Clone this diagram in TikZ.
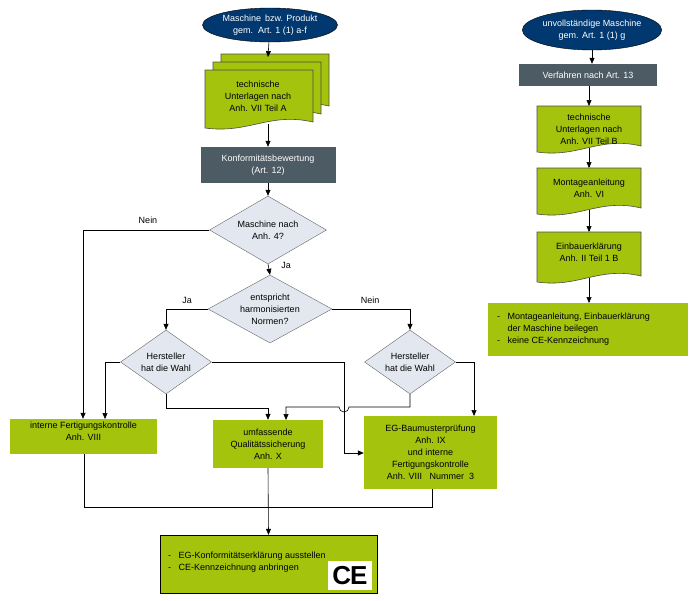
\documentclass[tikz,border=0pt]{standalone}
\usepackage{fontspec}
\setmainfont{Liberation Sans}
\usetikzlibrary{shapes.geometric,arrows.meta}
\definecolor{dblue}{HTML}{00386F}
\definecolor{dgray}{HTML}{4D5B64}
\definecolor{lgreen}{HTML}{A3C30C}
\definecolor{dia}{HTML}{E3E7EF}
\newcommand\docshape[4]{%
  \draw[fill=lgreen,draw=black!70,line width=.6pt] (#1,#2) -- (#3,#2) -- (#3,#4-6)
   .. controls ({(#1+#3)/2+10},#4-16) and ({(#1+#3)/2-10},#4+6) .. (#1,#4) -- cycle;}
\begin{document}
\begin{tikzpicture}[x=1pt,y=-1pt,font=\fontsize{9}{12}\selectfont,
  arr/.style={-{Triangle[length=6pt,width=5pt]},line width=.6pt},
  ln/.style={line width=.6pt},
  term/.style={ellipse,draw=black,fill=dblue,text=white,align=center,minimum width=135pt,minimum height=34pt,inner sep=0pt},
  proc/.style={fill=dgray,text=white,align=center,inner sep=0pt},
  gbox/.style={fill=lgreen,align=center,inner sep=0pt},
  dec/.style={diamond,aspect=1.7,draw=black!60,fill=dia,align=center,inner sep=0pt},
  lab/.style={inner sep=1pt}]
\useasboundingbox (0,0) rectangle (700,600);
% left column
\node[term] (t1) at (270,25) {Maschine\, bzw. Produkt\\gem.\, Art. 1 (1) a-f};
\docshape{221}{54}{329}{112}
\docshape{213}{62}{321}{120}
\docshape{205}{70}{313}{128}
\node[align=center] (d1) at (258,96) {technische\\Unterlagen nach\\Anh. VII Teil A};
\coordinate (d1b) at (268,124);
\coordinate (d1t) at (268,57);
\node[proc,minimum width=135pt,minimum height=36pt] (k) at (268,165) {Konformitätsbewertung\\(Art. 12)};
\node[dec,minimum width=117pt,minimum height=68pt] (q1) at (268,230) {Maschine nach\\Anh. 4?};
\node[dec,minimum width=124pt,minimum height=68pt] (q2) at (270,309) {entspricht\\harmonisierten\\Normen?};
\node[dec,minimum width=91pt,minimum height=64pt] (q3) at (166,362) {Hersteller\\hat die Wahl};
\node[dec,minimum width=91pt,minimum height=64pt] (q4) at (410,362) {Hersteller\\hat die Wahl};
\node[gbox,minimum width=147pt,minimum height=35pt] (b1) at (83.5,436.5) {interne Fertigungskontrolle\\Anh. VIII\\[-2pt]};
\node[gbox,minimum width=110pt,minimum height=48pt] (b2) at (268,444) {umfassende\\Qualitätssicherung\\Anh. X};
\node[gbox,minimum width=133pt,minimum height=73pt] (b3) at (430.5,452.5) {EG-Baumusterprüfung\\Anh. IX\\und interne\\Fertigungskontrolle\\Anh. VIII\;\; Nummer\; 3};
\node[gbox,draw=black,minimum width=217pt,minimum height=58pt] (f) at (268.5,564) {};
\node[anchor=west,align=left,inner sep=0pt] (ft) at (168,562) {-\;\; EG-Konformitätserklärung ausstellen\\-\;\; CE-Kennzeichnung anbringen};
\node[fill=white,minimum width=44pt,minimum height=29pt,inner sep=0pt,font=\fontsize{26}{26}\selectfont\bfseries] (ce) at (350,575.5) {C\kern-1pt\raisebox{0pt}{E}};
% connectors left
\draw[arr] (t1) -- (d1t);
\draw[arr] (d1b) -- (k);
\draw[arr] (k) -- (q1);
\draw[arr] (q1.west) -| (b1.north-|83,0);
\node[lab] (nein1) at (148,220) {Nein};
\draw[arr] (q1.south) -- (q2.north);
\node[lab] (ja1) at (286,265) {Ja};
\draw[arr] (q2.west) -| (q3.north);
\node[lab] (ja2) at (187,300) {Ja};
\draw[arr] (q2.east) -| (q4.north);
\node[lab] (nein2) at (370,300) {Nein};
\draw[arr] (q3.west) -| (105,419);
\draw[arr] (q3.south) |- (268,408) -- (b2.north);
\draw[arr] (q4.south) |- (349,407) arc (0:180:5) -- (286,407) -- (286,420);
\draw[arr] (q3.east) -- (344,362) |- (b3.west|-0,453);
\draw[arr] (q4.east) -| (474,416);
\draw[ln] (b1.south-|84,0) |- (432,507) -- (b3.south-|432,0);
\draw[arr] (b2.south) -- (f.north);
% right column
\node[term,minimum width=134pt,minimum height=40pt] (t2) at (592,30) {unvollständige Maschine\\gem. Art. 1 (1) g};
\node[proc,minimum width=138pt,minimum height=22pt] (v) at (588,75) {Verfahren nach Art. 13};
\docshape{537}{106}{641}{152}
\node[align=center] (r1) at (589,129) {technische\\Unterlagen nach\\Anh. VII Teil B};
\docshape{537}{168}{641}{214}
\node[align=center] (r2) at (589,188) {Montageanleitung\\Anh. VI};
\docshape{537}{232}{641}{282}
\node[align=center] (r3) at (589,252) {Einbauerklärung\\Anh. II Teil 1 B};
\node[gbox,minimum width=200pt,minimum height=53pt] (rf) at (588,329.5) {};
\node[anchor=west,align=left,inner sep=0pt] (rft) at (497,329) {-\;\; Montageanleitung, Einbauerklärung\\\phantom{-\;\;} der Maschine beilegen\\-\;\; keine CE-Kennzeichnung};
\draw[arr] (t2) -- (t2|-v.north);
\draw[arr] (v.south-|589,0) -- (589,106);
\draw[arr] (589,148) -- (589,168);
\draw[arr] (589,210) -- (589,232);
\draw[arr] (589,278) -- (589,303);
\end{tikzpicture}
\end{document}
